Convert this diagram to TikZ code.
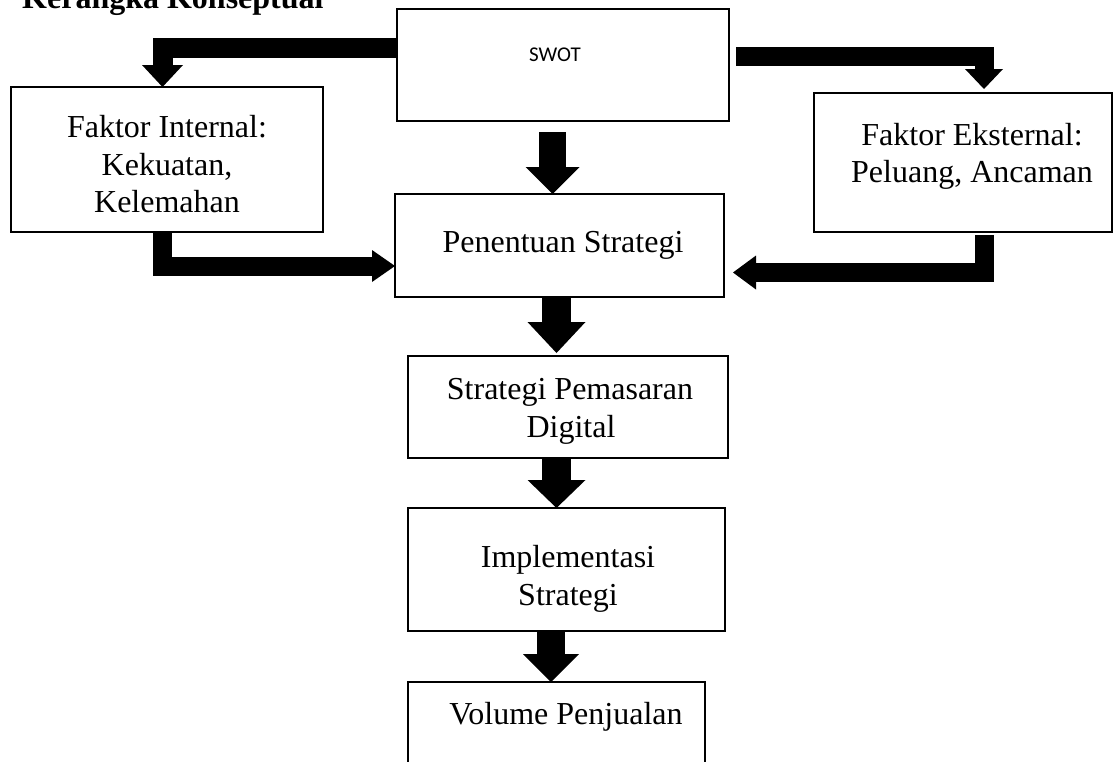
\documentclass[tikz,border=0pt]{standalone}
\usepackage{fontspec}
\setmainfont{Liberation Serif}
\newfontfamily\swotfont{Carlito}
\usetikzlibrary{arrows.meta,calc}
\begin{document}
\begin{tikzpicture}[x=1pt,y=-1pt,
  box/.style={draw, line width=1.5pt, inner sep=0pt, outer sep=0pt},
  txt/.style={inner sep=0pt, anchor=base, font=\fontsize{32}{38}\selectfont},
  fat/.style={line join=miter, line cap=butt}]
\useasboundingbox (0,0) rectangle (1117,761);
\node[inner sep=0pt, anchor=base west, font=\fontsize{32}{38}\selectfont\bfseries] (title) at (22,8) {Kerangka Konseptual};
% boxes
\node[box, minimum width=332pt, minimum height=112pt] (swot) at (563,65) {};
\node[box, minimum width=312pt, minimum height=145pt] (internal) at (167,159.5) {};
\node[box, minimum width=298pt, minimum height=139pt] (eksternal) at (963,162.5) {};
\node[box, minimum width=329pt, minimum height=103pt] (penentuan) at (559.5,245.5) {};
\node[box, minimum width=320pt, minimum height=102pt] (strategi) at (568,407) {};
\node[box, minimum width=317pt, minimum height=123pt] (impl) at (566.5,569.5) {};
\node[box, minimum width=297pt, minimum height=108pt] (volume) at (556.5,736) {};
% texts
\node[inner sep=0pt, font=\swotfont\fontsize{21}{25}\selectfont] (tswot) at (555,55) {SWOT};
\node[txt] (ti1) at (167,137) {Faktor Internal:};
\node[txt] (ti2) at (167,175) {Kekuatan,};
\node[txt] (ti3) at (167,212) {Kelemahan};
\node[txt] (te1) at (972,145) {Faktor Eksternal:};
\node[txt] (te2) at (972,182) {Peluang, Ancaman};
\node[txt] (tp) at (563,252) {Penentuan Strategi};
\node[txt] (ts1) at (570,399) {Strategi Pemasaran};
\node[txt] (ts2) at (571,437) {Digital};
\node[txt] (tm1) at (568,567) {Implementasi};
\node[txt] (tm2) at (568,605) {Strategi};
\node[txt] (tv) at (566,724) {Volume Penjualan};
% arrows
\draw[fat, line width=20pt, -{Triangle[width=41pt,length=22pt,line width=0pt]}]
  ([yshift=-39pt]swot.north west) -| ([xshift=-4.5pt]internal.north);
\draw[fat, line width=19pt, -{Triangle[width=38pt,length=20pt,line width=0pt]}]
  ([xshift=7pt,yshift=-47pt]swot.north east) -| ([xshift=21pt,yshift=4pt]eksternal.north);
\draw[fat, line width=27pt, -{Triangle[width=54pt,length=27pt,line width=0pt]}]
  ([xshift=-10.5pt,yshift=-11pt]swot.south) -- ([xshift=-7pt]penentuan.north);
\draw[fat, line width=29pt, -{Triangle[width=58pt,length=31pt,line width=0pt]}]
  ([xshift=-3pt]penentuan.south) -- ([xshift=-11.5pt,yshift=3pt]strategi.north);
\draw[fat, line width=29pt, -{Triangle[width=58pt,length=28pt,line width=0pt]}]
  ([xshift=-11.5pt]strategi.south) -- ([xshift=-10pt]impl.north);
\draw[fat, line width=28pt, -{Triangle[width=56pt,length=28pt,line width=0pt]}]
  ([xshift=-15.5pt]impl.south) -- ([xshift=-5.5pt]volume.north);
\draw[fat, line width=19pt, -{Triangle[width=32pt,length=23pt,line width=0pt]}]
  ([xshift=-4.5pt]internal.south) |- ([yshift=-20.5pt]penentuan.west);
\draw[fat, line width=19pt, -{Triangle[width=34pt,length=23pt,line width=0pt]}]
  ([xshift=21.5pt,yshift=-3pt]eksternal.south) |- ([xshift=9pt,yshift=-27pt]penentuan.east);
\end{tikzpicture}
\end{document}
